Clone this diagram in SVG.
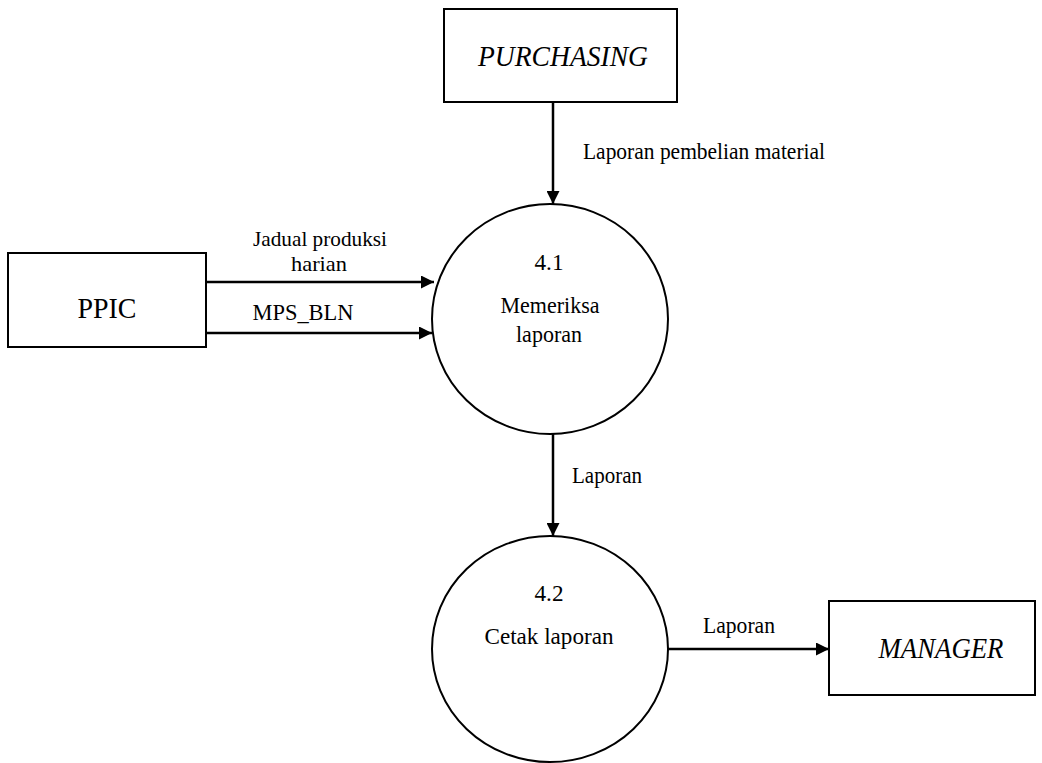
<svg xmlns="http://www.w3.org/2000/svg" width="1042" height="763" viewBox="0 0 1042 763">
  <style>
    .box { fill: #ffffff; stroke: #000000; stroke-width: 2; }
    .proc { fill: #ffffff; stroke: #000000; stroke-width: 2; }
    .flow { fill: none; stroke: #000000; stroke-width: 2.5; marker-end: url(#arrow); }
    text { font-family: "Liberation Serif", "Times New Roman", serif; fill: #000000; }
    .ent { font-size: 29px; text-anchor: middle; }
    .ital { font-style: italic; }
    .ptxt { font-size: 24px; text-anchor: middle; }
    .lbl { font-size: 23px; }
    .sm { font-size: 22px; }
    .mid { text-anchor: middle; }
  </style>
  <defs>
    <marker id="arrow" viewBox="0 0 10 10" refX="10" refY="5" markerWidth="6" markerHeight="5.2" markerUnits="strokeWidth" orient="auto">
      <path d="M0,0 L10,5 L0,10 z" fill="#000000"/>
    </marker>
  </defs>

  <!-- external entities -->
  <g id="purchasing">
    <rect class="box" x="444" y="9" width="233" height="93"/>
    <text class="ent ital" x="563" y="66" textLength="170" lengthAdjust="spacingAndGlyphs">PURCHASING</text>
  </g>
  <g id="ppic">
    <rect class="box" x="8" y="253" width="198" height="94"/>
    <text class="ent" x="107" y="318" textLength="59" lengthAdjust="spacingAndGlyphs">PPIC</text>
  </g>
  <g id="manager">
    <rect class="box" x="829" y="601" width="206" height="94"/>
    <text class="ent ital" x="941" y="658" textLength="125" lengthAdjust="spacingAndGlyphs">MANAGER</text>
  </g>

  <!-- processes -->
  <g id="p41">
    <ellipse class="proc" cx="550" cy="319" rx="118" ry="115"/>
    <text class="ptxt" x="549" y="270" textLength="29" lengthAdjust="spacingAndGlyphs">4.1</text>
    <text class="ptxt" x="550" y="313" textLength="99" lengthAdjust="spacingAndGlyphs">Memeriksa</text>
    <text class="ptxt" x="549" y="342" textLength="66" lengthAdjust="spacingAndGlyphs">laporan</text>
  </g>
  <g id="p42">
    <ellipse class="proc" cx="550" cy="649" rx="118" ry="113"/>
    <text class="ptxt" x="549" y="601" textLength="29" lengthAdjust="spacingAndGlyphs">4.2</text>
    <text class="ptxt" x="549" y="644" textLength="129" lengthAdjust="spacingAndGlyphs">Cetak laporan</text>
  </g>

  <!-- data flows -->
  <g id="flows">
    <line class="flow" x1="553" y1="102" x2="553" y2="204"/>
    <text class="lbl" x="583" y="159" textLength="242" lengthAdjust="spacingAndGlyphs">Laporan pembelian material</text>

    <line class="flow" x1="206" y1="282" x2="434" y2="282"/>
    <text class="sm mid" x="320" y="246" textLength="134" lengthAdjust="spacingAndGlyphs">Jadual produksi</text>
    <text class="sm mid" x="319" y="271" textLength="56" lengthAdjust="spacingAndGlyphs">harian</text>

    <line class="flow" x1="206" y1="333" x2="432" y2="333"/>
    <text class="lbl mid" x="303" y="320" textLength="101" lengthAdjust="spacingAndGlyphs">MPS_BLN</text>

    <line class="flow" x1="553" y1="434" x2="553" y2="536"/>
    <text class="lbl" x="572" y="483" textLength="70" lengthAdjust="spacingAndGlyphs">Laporan</text>

    <line class="flow" x1="668" y1="649" x2="829" y2="649"/>
    <text class="lbl" x="703" y="633" textLength="72" lengthAdjust="spacingAndGlyphs">Laporan</text>
  </g>
</svg>
